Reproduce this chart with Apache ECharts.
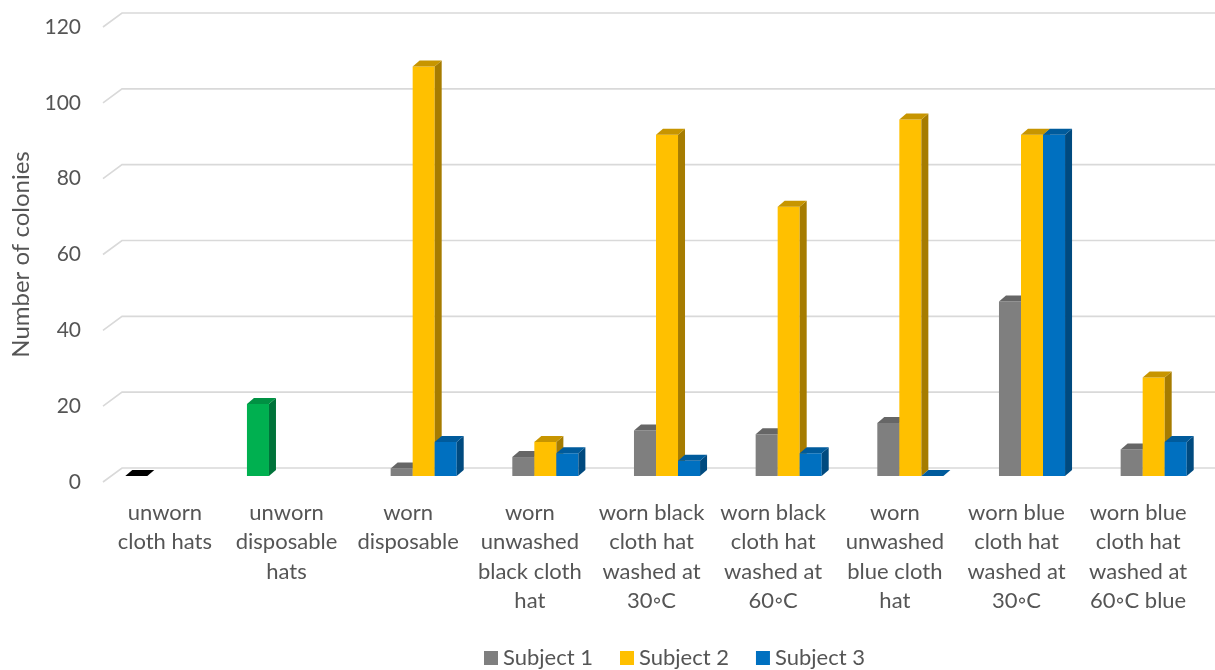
<!DOCTYPE html>
<html>
<head>
<meta charset="utf-8">
<script src="https://cdn.jsdelivr.net/npm/echarts@6/dist/echarts.min.js"></script>
<style>
html,body{margin:0;padding:0;background:#fff;}
#chart{width:1215px;height:670px;}
</style>
</head>
<body>
<div id="chart"></div>
<script>
// ---- data ----
const categories = [
  "unworn cloth hats",
  "unworn disposable hats",
  "worn disposable",
  "worn unwashed black cloth hat",
  "worn black cloth hat washed at 30◦C",
  "worn black cloth hat washed at 60◦C",
  "worn unwashed blue cloth hat",
  "worn blue cloth hat washed at 30◦C",
  "worn blue cloth hat washed at 60◦C blue"
];
const tickLabels = [
  "unworn\ncloth hats",
  "unworn\ndisposable\nhats",
  "worn\ndisposable",
  "worn\nunwashed\nblack cloth\nhat",
  "worn black\ncloth hat\nwashed at\n30◦C",
  "worn black\ncloth hat\nwashed at\n60◦C",
  "worn\nunwashed\nblue cloth\nhat",
  "worn blue\ncloth hat\nwashed at\n30◦C",
  "worn blue\ncloth hat\nwashed at\n60◦C blue"
];
const controls = [0, 19, null, null, null, null, null, null, null];
const subject1 = [null, null, 2, 5, 12, 11, 14, 46, 7];
const subject2 = [null, null, 108, 9, 90, 71, 94, 90, 26];
const subject3 = [null, null, 9, 6, 4, 6, 0, 90, 9];
const yTicks = [0, 20, 40, 60, 80, 100, 120];
const seriesNames = ["Subject 1", "Subject 2", "Subject 3"];

// ---- styles ----
const palGray = {front: "#7f7f7f", side: "#5f5f5f", top: "#666666"};
const palYellow = {front: "#ffc000", side: "#a67c00", top: "#c79500"};
const palBlue = {front: "#0070c0", side: "#004a7f", top: "#005b9c"};
const controlPalettes = [
  {front: "#000000", side: "#000000", top: "#000000"},
  {front: "#00b050", side: "#00733a", top: "#009143"}
];
const TXT = "#555555";
const FONT = "Lato";
const OFFX = 4.5, OFFY = -6;   // bar plane offset from label plane
const DX = 7, DY = -6;         // bar depth
const BAR_FRAC = 0.181;

function toItems(arr) {
  const out = [];
  arr.forEach((v, i) => { if (v !== null) out.push([i, v]); });
  return out;
}

function makeRender(slot, paletteFn) {
  return function (params, api) {
    const idx = api.value(0);
    const v = api.value(1);
    const base = api.coord([idx, 0]);
    const top = api.coord([idx, v]);
    const band = api.size([1, 0])[0];
    const bw = band * BAR_FRAC;
    const x0 = base[0] + OFFX + (slot - 2) * bw;
    const yb = base[1] + OFFY;
    const yt = top[1] + OFFY;
    const pal = paletteFn(idx);
    return {
      type: "group",
      children: [
        {type: "rect", shape: {x: x0, y: yt, width: bw, height: yb - yt},
         style: {fill: pal.front}},
        {type: "polygon", shape: {points: [[x0 + bw, yt], [x0 + bw + DX, yt + DY], [x0 + bw + DX, yb + DY], [x0 + bw, yb]]},
         style: {fill: pal.side}},
        {type: "polygon", shape: {points: [[x0, yt], [x0 + DX, yt + DY], [x0 + bw + DX, yt + DY], [x0 + bw, yt]]},
         style: {fill: pal.top}}
      ]
    };
  };
}

const chart = echarts.init(document.getElementById("chart"));
const option = {
  animation: false,
  backgroundColor: "#ffffff",
  textStyle: {fontFamily: FONT},
  grid: {left: 104, right: 16, top: 27, bottom: 188},
  legend: {
    data: seriesNames,
    left: 479, top: 642,
    icon: "rect", itemWidth: 14, itemHeight: 14, itemGap: 27,
    textStyle: {fontSize: 22, color: TXT, fontFamily: FONT}
  },
  xAxis: {
    type: "category",
    data: categories,
    axisLine: {show: false},
    axisTick: {show: false},
    splitLine: {show: false},
    axisLabel: {
      interval: 0, margin: 16, fontSize: 22, lineHeight: 29.5, color: TXT, fontFamily: FONT,
      formatter: function (val, i) { return tickLabels[i]; }
    }
  },
  yAxis: {
    type: "value", min: 0, max: 120, interval: 20,
    name: "Number of colonies", nameLocation: "middle", nameGap: 71,
    nameTextStyle: {fontSize: 24, color: TXT, fontFamily: FONT},
    axisLine: {show: false}, axisTick: {show: false}, splitLine: {show: false},
    axisLabel: {fontSize: 21, color: TXT, margin: 23, fontFamily: FONT}
  },
  series: [
    {
      type: "custom", name: "grid", z: 0, silent: true,
      data: yTicks.map(v => [0, v]),
      renderItem: function (params, api) {
        const y = api.coord([0, api.value(1)])[1];
        const cs = params.coordSys;
        return {
          type: "polyline",
          shape: {points: [[cs.x - 1, y], [cs.x + 18, y - 14], [cs.x + cs.width + 20, y - 14]]},
          style: {stroke: "#d9d9d9", lineWidth: 1.6, fill: null}
        };
      }
    },
    {type: "custom", name: "Control", z: 2, data: toItems(controls),
     renderItem: makeRender(0, idx => controlPalettes[idx])},
    {type: "custom", name: seriesNames[0], z: 2, itemStyle: {color: palGray.front}, data: toItems(subject1),
     renderItem: makeRender(1, () => palGray)},
    {type: "custom", name: seriesNames[1], z: 2, itemStyle: {color: palYellow.front}, data: toItems(subject2),
     renderItem: makeRender(2, () => palYellow)},
    {type: "custom", name: seriesNames[2], z: 2, itemStyle: {color: palBlue.front}, data: toItems(subject3),
     renderItem: makeRender(3, () => palBlue)}
  ]
};
chart.setOption(option);
</script>
</body>
</html>
